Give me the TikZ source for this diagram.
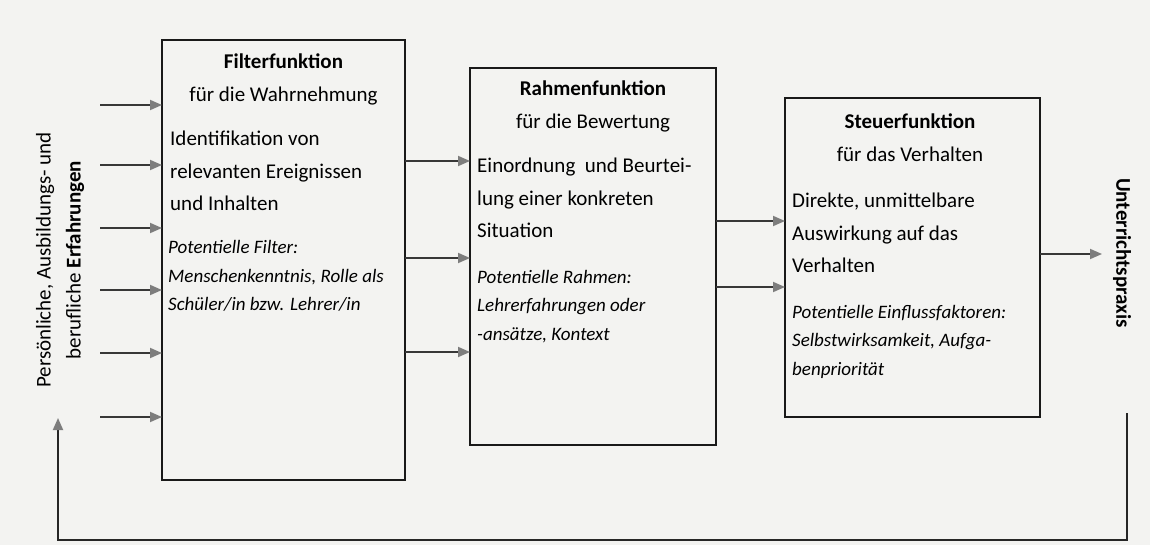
\documentclass[tikz,border=0pt]{standalone}
\usepackage{fontspec}
\setmainfont{Carlito}
\usetikzlibrary{arrows.meta}
\definecolor{paper}{RGB}{243,243,241}
\definecolor{lineg}{RGB}{55,55,55}
\definecolor{tipg}{RGB}{125,125,125}
\newcommand\regf{\fontsize{21}{32.5}\selectfont}
\newcommand\itf{\fontsize{19}{28.5}\selectfont\itshape}
\begin{document}
\begin{tikzpicture}[x=1pt,y=-1pt,
  fbox/.style={draw=black!90, line width=2.2pt, inner sep=0, outer sep=0, anchor=north west},
  arr/.style={draw=lineg, line width=1.8pt, -{Triangle[length=12pt,width=10pt,color=tipg]}},
  fback/.style={draw=black!85, line width=1.8pt, -{Triangle[length=12pt,width=10pt,color=tipg]}},
  txt/.style={inner sep=0, anchor=base west},
  ttl/.style={inner sep=0, anchor=base},
]
\fill[paper] (0,0) rectangle (1150,545);
\useasboundingbox (0,0) rectangle (1150,545);

% boxes
\node[fbox, minimum width=243pt, minimum height=440pt] (b1) at (162,40) {};
\node[fbox, minimum width=246pt, minimum height=377pt] (b2) at (470,68) {};
\node[fbox, minimum width=255pt, minimum height=319pt] (b3) at (785,98) {};

% box 1 text
\node[ttl] (t1) at (283.5,69) {\parbox[t]{240pt}{\centering\regf\textbf{Filterfunktion}\\für die Wahrnehmung}};
\node[txt] (d1) at (170,146) {\parbox[t]{235pt}{\regf Identifikation von\\relevanten Ereignissen\\und Inhalten}};
\node[txt] (p1) at (168,254) {\parbox[t]{235pt}{\itf Potentielle Filter:\\Menschenkenntnis, Rolle als\\Schüler/in bzw. Lehrer/in}};

% box 2 text
\node[ttl] (t2) at (593,96) {\parbox[t]{240pt}{\centering\regf\textbf{Rahmenfunktion}\\für die Bewertung}};
\node[txt] (d2) at (477,173) {\parbox[t]{238pt}{\regf Einordnung\ \ und Beurtei-\\lung einer konkreten\\Situation}};
\node[txt] (p2) at (477,283) {\parbox[t]{238pt}{\itf Potentielle Rahmen:\\Lehrerfahrungen oder\\-ansätze, Kontext}};

% box 3 text
\node[ttl] (t3) at (910,129) {\parbox[t]{250pt}{\centering\regf\textbf{Steuerfunktion}\\für das Verhalten}};
\node[txt] (d3) at (792,208) {\parbox[t]{245pt}{\regf Direkte, unmittelbare\\Auswirkung auf das\\Verhalten}};
\node[txt] (p3) at (792,318) {\parbox[t]{245pt}{\itf Potentielle Einflussfaktoren:\\Selbstwirksamkeit, Aufga-\\benpriorität}};

% side labels
\node[rotate=90, align=center, inner sep=0, font=\fontsize{21}{30}\selectfont] (L) at (60,260)
  {Persönliche, Ausbildungs- und\\berufliche \textbf{Erfahrungen}};
\node[rotate=-90, inner sep=0, font=\fontsize{21}{25}\selectfont\bfseries] (R) at (1122,253)
  {Unterrichtspraxis};

% inputs
\foreach \y [count=\i] in {105,165,228,290,353,417} {
  \coordinate (in\i) at (100,\y);
  \draw[arr] (in\i) -- (in\i -| b1.west);
}
% box1 -> box2
\foreach \y in {161,258,352} {
  \draw[arr] (b1.east |- 0,\y) -- (b2.west |- 0,\y);
}
% box2 -> box3
\foreach \y in {221,287} {
  \draw[arr] (b2.east |- 0,\y) -- (b3.west |- 0,\y);
}
% box3 -> output
\coordinate (out) at (1102,254);
\draw[arr] (b3.east |- out) -- (out);

% feedback
\coordinate (fb1) at (1127,413);
\coordinate (c1) at (1127,540);
\coordinate (c2) at (58,540);
\coordinate (fb2) at (58,418);
\draw[fback] (fb1) -- (c1) -- (c2) -- (fb2);
\end{tikzpicture}
\end{document}
